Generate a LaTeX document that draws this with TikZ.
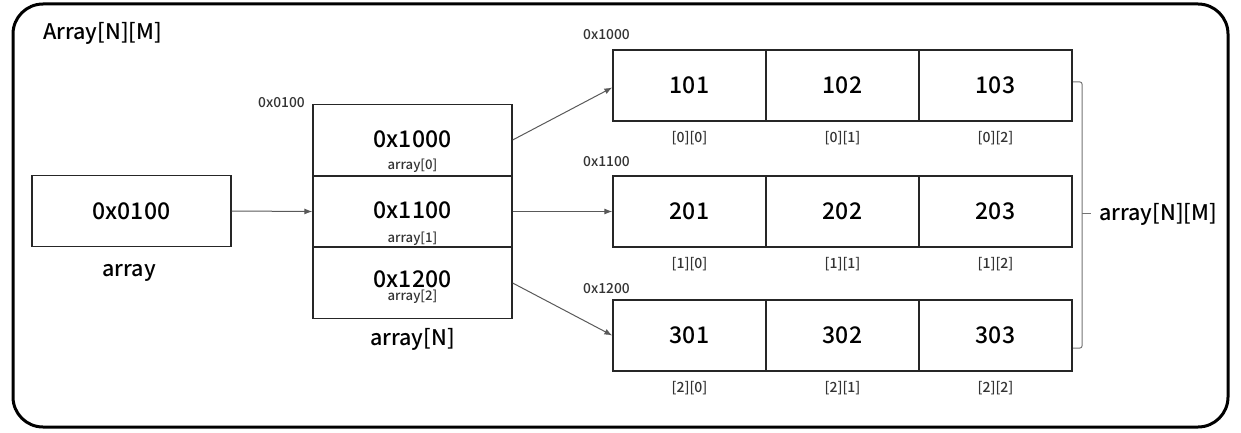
\documentclass[tikz,border=0pt]{standalone}
\usepackage{fontspec}
\setmainfont{Noto Sans CJK KR Medium}
\usetikzlibrary{arrows.meta}
\begin{document}
\begin{tikzpicture}[x=1pt,y=-1pt,
  box/.style={draw=black!85, line width=1.3pt, inner sep=0pt, minimum height=71pt},
  big/.style={font=\fontsize{23}{24}\selectfont, inner sep=0pt},
  lbl/.style={font=\fontsize{21.5}{22}\selectfont, inner sep=0pt},
  small/.style={font=\fontsize{13.8}{15}\selectfont, text=black!80, inner sep=0pt},
  tiny/.style={font=\fontsize{13.2}{14}\selectfont, text=black!80, inner sep=0pt},
  idx/.style={font=\fontsize{14}{15}\selectfont, text=black!80, inner sep=0pt, below=9pt},
  arr/.style={draw=black!65, line width=1pt, -{Latex[length=8pt,width=6pt]}},
  brk/.style={draw=black!55, line width=1pt}]
\useasboundingbox (0,0) rectangle (1241,433);
\draw[line width=3pt, rounded corners=30pt] (13,4) rectangle (1228,427);
\node[lbl, anchor=base west] (title) at (43,40) {Array[N][M]};

% pointer variable
\node[box, minimum width=199pt, big] (ptr) at (131.5,211) {0x0100};
\node[lbl, anchor=base] (ptrlbl) at (129,276) {array};

% array of pointers
\node[small, anchor=base west] (stackaddr) at (258,107) {0x0100};
\node[box, minimum width=199pt] (s0) at (412.5,140) {};
\node[box, minimum width=199pt] (s1) at (412.5,211.5) {};
\node[box, minimum width=199pt] (s2) at (412.5,283) {};
\node[big] (s0t) at (412.5,139) {0x1000};
\node[tiny, anchor=base] (s0l) at (412.5,169) {array[0]};
\node[big] (s1t) at (412.5,210.5) {0x1100};
\node[tiny, anchor=base] (s1l) at (412.5,242) {array[1]};
\node[big] (s2t) at (412.5,279) {0x1200};
\node[tiny, anchor=base] (s2l) at (412.5,300.5) {array[2]};
\node[lbl, anchor=base] (stacklbl) at (412.5,345) {array[N]};

% rows
\node[small, anchor=base west] (r0addr) at (583,40) {0x1000};
\node[small, anchor=base west] (r1addr) at (583,166) {0x1100};
\node[small, anchor=base west] (r2addr) at (583,293) {0x1200};

\node[box, minimum width=153pt, big] (c00) at (689.5,85.5) {101};
\node[box, minimum width=153pt, big] (c01) at (842.5,85.5) {102};
\node[box, minimum width=153pt, big] (c02) at (995.5,85.5) {103};
\node[box, minimum width=153pt, big] (c10) at (689.5,211.5) {201};
\node[box, minimum width=153pt, big] (c11) at (842.5,211.5) {202};
\node[box, minimum width=153pt, big] (c12) at (995.5,211.5) {203};
\node[box, minimum width=153pt, big] (c20) at (689.5,335.5) {301};
\node[box, minimum width=153pt, big] (c21) at (842.5,335.5) {302};
\node[box, minimum width=153pt, big] (c22) at (995.5,335.5) {303};

\node[idx] (i00) at (c00.south) {[0][0]};
\node[idx] (i01) at (c01.south) {[0][1]};
\node[idx] (i02) at (c02.south) {[0][2]};
\node[idx] (i10) at (c10.south) {[1][0]};
\node[idx] (i11) at (c11.south) {[1][1]};
\node[idx] (i12) at (c12.south) {[1][2]};
\node[idx] (i20) at (c20.south) {[2][0]};
\node[idx] (i21) at (c21.south) {[2][1]};
\node[idx] (i22) at (c22.south) {[2][2]};

% arrows
\draw[arr] (ptr.east) -- (s1.west);
\draw[arr] (s0.east) -- ([yshift=-2pt]c00.west);
\draw[arr] (s1.east) -- (c10.west);
\draw[arr] (s2.east) -- (c20.west);

% bracket
\coordinate (bt) at (1073,82);
\coordinate (bb) at (1073,348);
\coordinate (bm) at (1082,213);
\coordinate (btick) at (1091,213);
\draw[brk, rounded corners=2pt] (bt) -- (1082,82) -- (1082,348) -- (bb);
\draw[brk] (bm) -- (btick);
\node[lbl, anchor=base west] (alllbl) at (1099,220) {array[N][M]};
\end{tikzpicture}
\end{document}
